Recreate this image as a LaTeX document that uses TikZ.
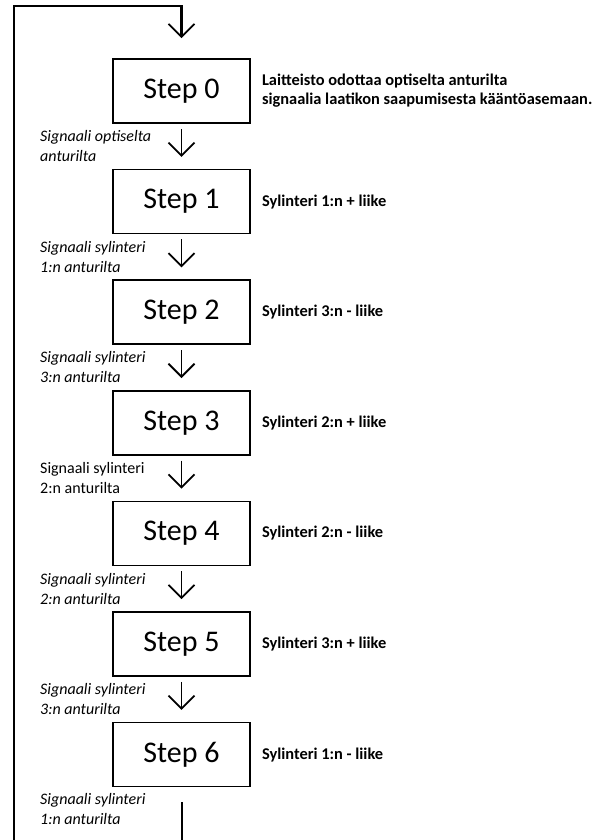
\documentclass[tikz,border=0pt]{standalone}
\usepackage{fontspec}
\setmainfont{Carlito}
\usetikzlibrary{arrows.meta,positioning,calc}

\begin{document}
\begin{tikzpicture}[
  x=1pt, y=-1pt,
  every node/.style={inner sep=0pt},
  stepbox/.style={draw, line width=1.6pt, minimum width=137pt, minimum height=64pt, font=\fontsize{30}{34}\selectfont},
  flow/.style={line width=1.8pt, -{Straight Barb[length=13pt, width=26pt, line width=1.8pt]}},
  sig/.style={anchor=west, align=left, font=\fontsize{16}{20}\selectfont\itshape},
  sigup/.style={anchor=west, align=left, font=\fontsize{16}{20}\selectfont},
  act/.style={anchor=west, align=left, font=\fontsize{16.4}{19}\selectfont\bfseries},
  node distance=45pt
]
\useasboundingbox (0,0) rectangle (601,840);

% steps
\node[stepbox] (s0) at (181.5,91) {Step 0};
\node[stepbox, below=of s0] (s1) {Step 1};
\node[stepbox, below=of s1] (s2) {Step 2};
\node[stepbox, below=of s2] (s3) {Step 3};
\node[stepbox, below=of s3] (s4) {Step 4};
\node[stepbox, below=of s4] (s5) {Step 5};
\node[stepbox, below=of s5] (s6) {Step 6};

% actions
\node[act, right=11pt of s0] (a0) {Laitteisto odottaa optiselta anturilta\\signaalia laatikon saapumisesta kääntöasemaan.};
\node[act, right=11pt of s1] (a1) {Sylinteri 1:n + liike};
\node[act, right=11pt of s2] (a2) {Sylinteri 3:n - liike};
\node[act, right=11pt of s3] (a3) {Sylinteri 2:n + liike};
\node[act, right=11pt of s4] (a4) {Sylinteri 2:n - liike};
\node[act, right=11pt of s5] (a5) {Sylinteri 3:n + liike};
\node[act, right=11pt of s6] (a6) {Sylinteri 1:n - liike};

% signals
\coordinate (lm) at (40,0);
\coordinate (m1) at ($(s0.south)!0.5!(s1.north)$);
\coordinate (m2) at ($(s1.south)!0.5!(s2.north)$);
\coordinate (m3) at ($(s2.south)!0.5!(s3.north)$);
\coordinate (m4) at ($(s3.south)!0.5!(s4.north)$);
\coordinate (m5) at ($(s4.south)!0.5!(s5.north)$);
\coordinate (m6) at ($(s5.south)!0.5!(s6.north)$);
\node[sig] (g1) at (lm |- m1) {Signaali optiselta\\anturilta};
\node[sig] (g2) at (lm |- m2) {Signaali sylinteri\\1:n anturilta};
\node[sig] (g3) at (lm |- m3) {Signaali sylinteri\\3:n anturilta};
\node[sigup] (g4) at (lm |- m4) {Signaali sylinteri\\2:n anturilta};
\node[sig] (g5) at (lm |- m5) {Signaali sylinteri\\2:n anturilta};
\node[sig] (g6) at (lm |- m6) {Signaali sylinteri\\3:n anturilta};
\node[sig] (g7) at ([yshift=-22pt]s6.south -| lm) {Signaali sylinteri\\1:n anturilta};

% flow
\draw[flow] ([yshift=-5pt]s0.south) -- ([yshift=12pt]s1.north);
\draw[flow] ([yshift=-5pt]s1.south) -- ([yshift=12pt]s2.north);
\draw[flow] ([yshift=-5pt]s2.south) -- ([yshift=12pt]s3.north);
\draw[flow] ([yshift=-5pt]s3.south) -- ([yshift=12pt]s4.north);
\draw[flow] ([yshift=-5pt]s4.south) -- ([yshift=12pt]s5.north);
\draw[flow] ([yshift=-5pt]s5.south) -- ([yshift=12pt]s6.north);

% loop back
\coordinate (bot) at (0,840);
\coordinate (top) at (0,6);
\coordinate (lx) at (14,0);
\draw[line width=2pt] ([yshift=-15pt]s6.south) -- (s6.south |- bot);
\draw[flow, line width=2.2pt] (lx |- bot) -- (lx |- top) -- (s0.north |- top) -- ([yshift=20pt]s0.north);
\end{tikzpicture}
\end{document}
